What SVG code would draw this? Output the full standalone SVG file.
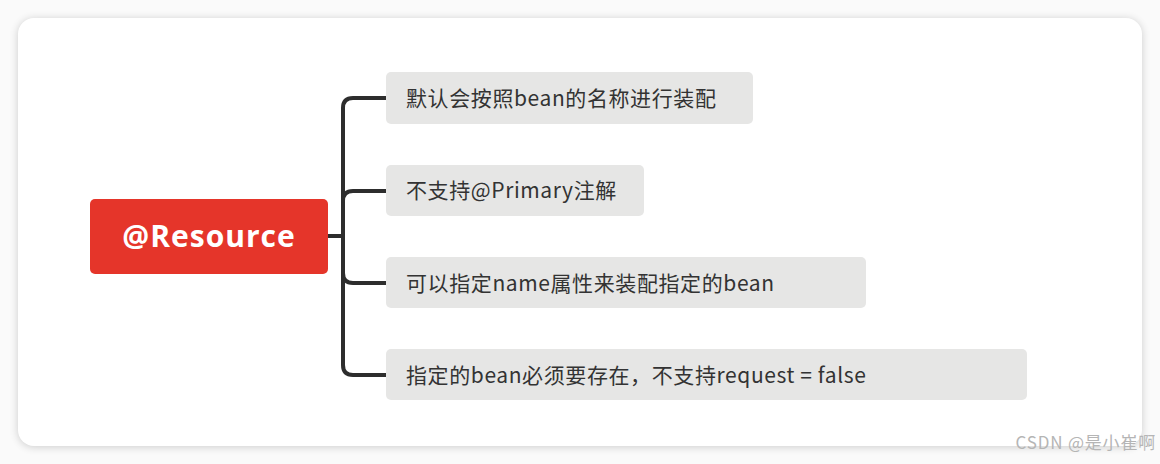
<svg xmlns="http://www.w3.org/2000/svg" width="1160" height="464" viewBox="0 0 1160 464">
<style>
.leaf{fill:#e6e6e5}
.lt{font-family:"Noto Sans CJK SC","Noto Sans",sans-serif;font-size:21px;letter-spacing:0.6px;fill:#333}
.conn{fill:none;stroke:#2d2d2d;stroke-width:4;stroke-linecap:round}
</style>
<defs><filter id="sh" x="-5%" y="-10%" width="110%" height="120%"><feGaussianBlur stdDeviation="4"/></filter></defs>
<rect width="1160" height="464" fill="#fafafa"/>
<rect x="18" y="19" width="1124" height="428" rx="16" fill="#000" opacity="0.18" filter="url(#sh)"/>
<rect x="18" y="18" width="1124" height="428" rx="16" fill="#fff"/>
<g id="connectors">
<path class="conn" d="M328 236H343"/>
<path class="conn" d="M386 98H353Q343 98 343 108V365Q343 375 353 375H386"/>
<path class="conn" d="M386 191H353Q343 191 343 201"/>
<path class="conn" d="M386 283H353Q343 283 343 273"/>
</g>
<g id="root"><rect x="90" y="199" width="238" height="75" rx="5" fill="#e5352a"/>
<text x="209" y="247" text-anchor="middle" font-family="'Open Sans','Noto Sans',sans-serif" font-size="30" font-weight="bold" letter-spacing="1" fill="#fff">@Resource</text></g>
<g id="n1"><rect class="leaf" x="386" y="72" width="367" height="52" rx="5"/><text class="lt" x="406" y="106">默认会按照bean的名称进行装配</text></g>
<g id="n2"><rect class="leaf" x="386" y="165" width="258" height="51" rx="5"/><text class="lt" x="406" y="198">不支持@Primary注解</text></g>
<g id="n3"><rect class="leaf" x="386" y="257" width="480" height="51" rx="5"/><text class="lt" x="406" y="291">可以指定name属性来装配指定的bean</text></g>
<g id="n4"><rect class="leaf" x="386" y="349" width="641" height="51" rx="5"/><text class="lt" x="406" y="383">指定的bean必须要存在，不支持request = false</text></g>
<text x="1156" y="449" text-anchor="end" font-family="'Noto Sans CJK SC',sans-serif" font-size="17" letter-spacing="0.8" fill="#b5b5b5">CSDN @是小崔啊</text>
</svg>
